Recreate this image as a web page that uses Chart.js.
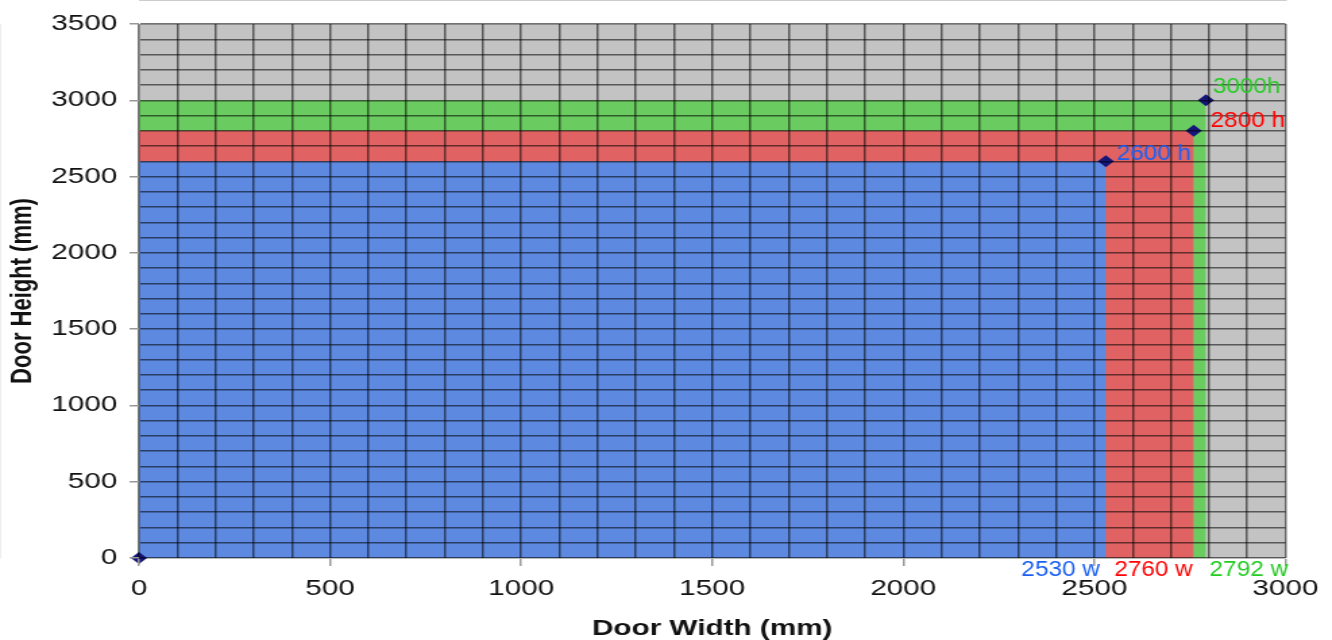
<!DOCTYPE html>
<html>
<head>
<meta charset="utf-8">
<script src="https://cdn.jsdelivr.net/npm/chart.js@4"></script>
<style>
  html, body { margin: 0; padding: 0; background: #fff; overflow: hidden; }
  #doors { display: block; background: #fff; }
</style>
</head>
<body>
<!-- the reference is stretched sideways, so the canvas is drawn narrow and widened by css -->
<canvas id="doors" width="987" height="640" style="width:1332px;height:640px"></canvas>
<script>
// door sizes (mm)
const doorWidths = [2530, 2760, 2792];
const doorHeights = [2600, 2800, 3000];
const heightLabels = ["2600 h", "2800 h", "3000h"];
const widthLabels = ["2530 w", "2760 w", "2792 w"];
const fillColors = ["#5d8ae0", "#e06262", "#6acc60"];
const textColors = ["#1a5ff0", "#ff0000", "#22cc22"];

Chart.defaults.font.family = '"Liberation Sans", Arial, sans-serif';

// gray behind the plot
const plotBackground = {
    id: "plotBackground",
    beforeDatasetsDraw(chart) {
        const { ctx, chartArea: a } = chart;
        ctx.save();
        ctx.fillStyle = "#c3c3c3";
        ctx.fillRect(a.left, a.top, a.width, a.height);
        ctx.restore();
    },
};

function squeezedText(ctx, text, x, y, align) {
    ctx.save();
    ctx.translate(x, y);
    ctx.scale(0.82, 1);
    ctx.textAlign = align;
    ctx.fillText(text, 0, 0);
    ctx.restore();
}

// the "h" / "w" labels next to each corner
const cornerLabels = {
    id: "cornerLabels",
    afterDraw(chart) {
        const { ctx, scales } = chart;
        const hOff = [[8, -7], [12.5, -10], [5, -13.5]];
        const wOff = [[-4.4, "right"], [-0.7, "right"], [2.7, "left"]];
        ctx.save();
        ctx.font = '22px "Liberation Sans", Arial, sans-serif';
        ctx.textBaseline = "middle";
        doorWidths.forEach((w, i) => {
            const px = scales.x.getPixelForValue(w);
            const py = scales.y.getPixelForValue(doorHeights[i]);
            ctx.fillStyle = textColors[i];
            squeezedText(ctx, heightLabels[i], px + hOff[i][0], py + hOff[i][1], "left");
            squeezedText(ctx, widthLabels[i], px + wOff[i][0], scales.y.bottom + 12, wOff[i][1]);
        });
        ctx.restore();
    },
};

const markers = [{ x: 0, y: 0 }].concat(doorWidths.map((w, i) => ({ x: w, y: doorHeights[i] })));

const datasets = [
    {
        type: "scatter",
        data: markers,
        pointStyle: "rectRot",
        pointRadius: 6,
        backgroundColor: "#161678",
        borderWidth: 0,
        clip: false,
    },
];
doorWidths.forEach((w, i) => {
    datasets.push({
        type: "line",
        data: [{ x: 0, y: doorHeights[i] }, { x: w, y: doorHeights[i] }, { x: w, y: 0 }],
        fill: "origin",
        backgroundColor: fillColors[i],
        borderWidth: 0,
        pointRadius: 0,
    });
});

const gridColor = "rgba(0,0,0,0.55)";
const tickMark = (ctx) => (ctx.tick && ctx.tick.value % 500 === 0 ? "#999" : "rgba(0,0,0,0)");

new Chart(document.getElementById("doors"), {
    type: "line",
    data: { datasets: datasets },
    plugins: [plotBackground, cornerLabels],
    options: {
        responsive: false,
        animation: false,
        devicePixelRatio: 1,
        layout: { padding: { top: 24, right: 32, bottom: 0, left: 0 } },
        plugins: { legend: { display: false }, tooltip: { enabled: false } },
        scales: {
            x: {
                type: "linear",
                min: 0,
                max: 3000,
                ticks: {
                    stepSize: 100,
                    autoSkip: false,
                    maxRotation: 0,
                    padding: 10,
                    color: "#111",
                    font: { size: 22 },
                    callback: (v) => (v % 500 === 0 ? v : ""),
                },
                grid: { z: 1, color: gridColor, lineWidth: 1.5, tickLength: 8, tickColor: tickMark },
                border: { color: "#999" },
                title: {
                    display: true,
                    text: "Door Width (mm)",
                    color: "#111",
                    font: { size: 22, weight: "bold", lineHeight: 1 },
                    padding: { top: 0, bottom: 0 },
                },
                afterFit: (s) => { s.height = 82; },
            },
            y: {
                min: 0,
                max: 3500,
                ticks: {
                    stepSize: 100,
                    autoSkip: false,
                    padding: 9,
                    color: "#111",
                    font: { size: 22 },
                    callback: (v) => (v % 500 === 0 ? v : ""),
                },
                grid: { z: 1, color: gridColor, lineWidth: 1.5, tickLength: 7, tickColor: tickMark },
                border: { color: "#ddd" },
                title: {
                    display: true,
                    text: "Door Height (mm)",
                    color: "#111",
                    font: { size: 22, weight: "bold", lineHeight: 1 },
                    padding: { top: 6, bottom: 0 },
                },
                afterFit: (s) => { s.width = 103; },
            },
        },
    },
});
</script>
</body>
</html>
